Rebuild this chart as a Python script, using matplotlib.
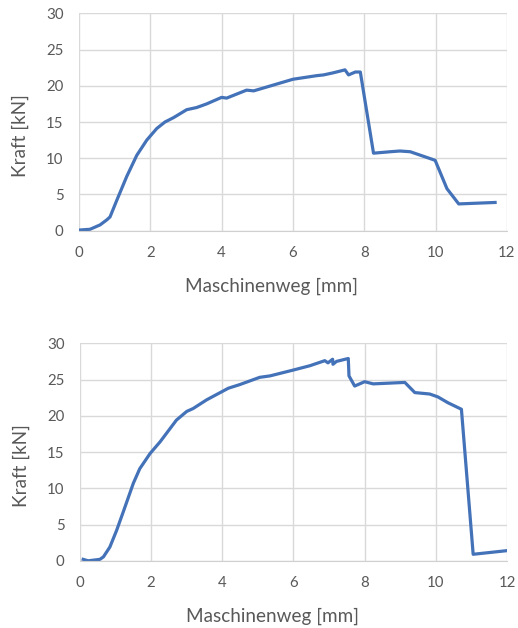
import matplotlib.pyplot as plt

# Versuch 1
weg_1 = [0.03, 0.31, 0.59, 0.78, 0.87, 1.06, 1.34, 1.62, 1.90, 2.18, 2.41, 2.65, 3.02, 3.30,
         3.58, 4.00, 4.14, 4.70, 4.90, 5.45, 6.00, 6.67, 6.86, 7.14, 7.46, 7.56, 7.75, 7.89,
         8.26, 8.73, 9.00, 9.29, 9.94, 9.99, 10.32, 10.65, 11.67]
kraft_1 = [0.1, 0.2, 0.8, 1.5, 1.9, 4.2, 7.5, 10.4, 12.5, 14.1, 15.0, 15.6, 16.7, 17.0,
           17.5, 18.4, 18.3, 19.4, 19.3, 20.1, 20.9, 21.4, 21.5, 21.8, 22.2, 21.5, 21.9, 21.9,
           10.7, 10.9, 11.0, 10.9, 9.8, 9.7, 5.8, 3.7, 3.9]

# Versuch 2
weg_2 = [0.09, 0.23, 0.56, 0.66, 0.84, 1.03, 1.22, 1.50, 1.68, 1.97, 2.25, 2.71, 3.00, 3.18,
         3.56, 4.17, 4.49, 5.05, 5.34, 5.99, 6.46, 6.88, 6.97, 7.10, 7.11, 7.21, 7.54, 7.56,
         7.72, 8.00, 8.24, 9.13, 9.41, 9.83, 10.06, 10.34, 10.72, 11.05, 12.0]
kraft_2 = [0.2, 0.0, 0.2, 0.55, 1.9, 4.2, 6.8, 10.7, 12.7, 14.8, 16.4, 19.4, 20.6, 21.0,
           22.2, 23.8, 24.3, 25.3, 25.5, 26.3, 26.9, 27.6, 27.3, 27.8, 27.1, 27.5, 27.9, 25.5,
           24.1, 24.7, 24.4, 24.6, 23.2, 23.0, 22.6, 21.8, 20.9, 0.9, 1.4]

x_ticks = [0, 2, 4, 6, 8, 10, 12]
y_ticks = [0, 5, 10, 15, 20, 25, 30]

plt.rcParams['font.family'] = ['Lato', 'DejaVu Sans']
grau = '#595959'

fig = plt.figure(figsize=(5.18, 6.28), dpi=100)
ax1 = fig.add_axes([0.1525, 0.6326, 0.826, 0.3462])
ax2 = fig.add_axes([0.1544, 0.1070, 0.8243, 0.3464])

for ax, x, y in [(ax1, weg_1, kraft_1), (ax2, weg_2, kraft_2)]:
    ax.plot(x, y, color='#4472B8', lw=2.3, solid_joinstyle='round')
    ax.set_xlim(0, 12)
    ax.set_ylim(0, 30)
    ax.set_xticks(x_ticks)
    ax.set_yticks(y_ticks)
    ax.grid(True, color='#d9d9d9', lw=1)
    ax.set_axisbelow(True)
    for s in ['top', 'right', 'left']:
        ax.spines[s].set_visible(False)
    ax.spines['bottom'].set_color('#d0d0d0')
    ax.tick_params(length=0, labelsize=10.8, labelcolor=grau, pad=11)
    ax.set_xlabel('Maschinenweg [mm]', fontsize=13.6, color=grau, va='center')
    ax.set_ylabel('Kraft [kN]', fontsize=13.6, color=grau, va='center')
    ax.xaxis.set_label_coords(0.45, -0.254)
    ax.yaxis.set_label_coords(-0.138, 0.44)

fig.savefig('out.png', dpi=100, facecolor='white')
